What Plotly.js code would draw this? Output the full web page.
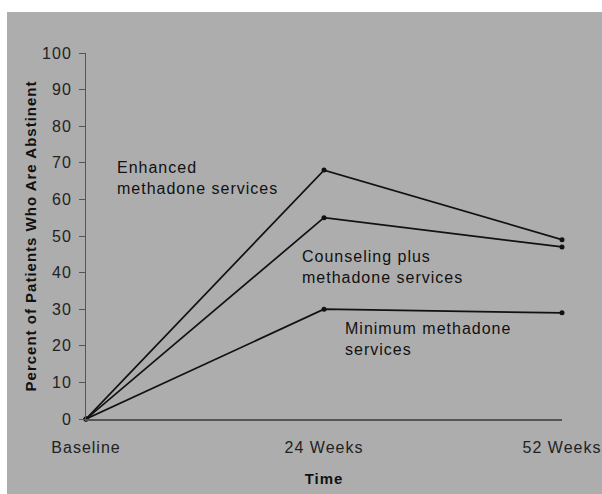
<!DOCTYPE html>
<html><head><meta charset="utf-8">
<script src="https://cdn.plot.ly/plotly-3.0.1.min.js"></script>
<style>html,body{margin:0;padding:0;background:#fff;}#chart{position:absolute;left:7px;top:12px;width:595px;height:482px;}
#chart text{letter-spacing:1px;}</style>
</head><body><div id="chart"></div>
<script>
const categories = ["Baseline", "24 Weeks", "52 Weeks"];
const enhanced = [0, 68, 49];
const counseling = [0, 55, 47];
const minimum = [0, 30, 29];
const seriesNames = ["Enhanced<br>methadone services", "Counseling plus<br>methadone services", "Minimum methadone<br>services"];
const yTicks = [0, 10, 20, 30, 40, 50, 60, 70, 80, 90, 100];

const font = {family: "Liberation Sans, Arial, sans-serif", color: "#111", size: 16};
function tr(y, name) {
  return {x: categories, y: y, name: name, type: "scatter", mode: "lines+markers",
    line: {color: "#111", width: 1.7}, marker: {color: "#111", size: 5}, cliponaxis: false};
}
const data = [tr(enhanced, "Enhanced"), tr(counseling, "Counseling"), tr(minimum, "Minimum")];
const annFont = {size: 16, color: "#111"};
const layout = {
  width: 595, height: 482,
  margin: {l: 79, r: 40, t: 41, b: 75},
  paper_bgcolor: "#adadad", plot_bgcolor: "#adadad",
  font: font, showlegend: false,
  xaxis: {type: "category", range: [0, 2], showgrid: false, zeroline: false,
    showline: true, linecolor: "#555", linewidth: 2, ticks: "", ticklabelstandoff: 13,
    tickfont: {size: 16, color: "#222"},
    title: {text: "<b>Time</b>", font: {size: 15, color: "#111"}, standoff: 18}},
  yaxis: {range: [0, 100], tickvals: yTicks, showgrid: false, zeroline: false,
    showline: true, linecolor: "#555", linewidth: 1, ticks: "outside", ticklen: 6, tickcolor: "#555",
    ticklabelstandoff: 4, tickfont: {size: 16, color: "#222"},
    title: {text: "<b>Percent of Patients Who Are Abstinent</b>", font: {size: 15, color: "#111"}, standoff: 4}},
  annotations: [
    {xref: "paper", yref: "y", x: 0.061, y: 65.8, text: seriesNames[0], showarrow: false, xanchor: "left", yanchor: "middle", align: "left", font: annFont},
    {xref: "paper", yref: "y", x: 0.45, y: 41.5, text: seriesNames[1], showarrow: false, xanchor: "left", yanchor: "middle", align: "left", font: annFont},
    {xref: "paper", yref: "y", x: 0.54, y: 21.9, text: seriesNames[2], showarrow: false, xanchor: "left", yanchor: "middle", align: "left", font: annFont}
  ]
};
Plotly.newPlot("chart", data, layout, {displayModeBar: false, staticPlot: true});
</script></body></html>
